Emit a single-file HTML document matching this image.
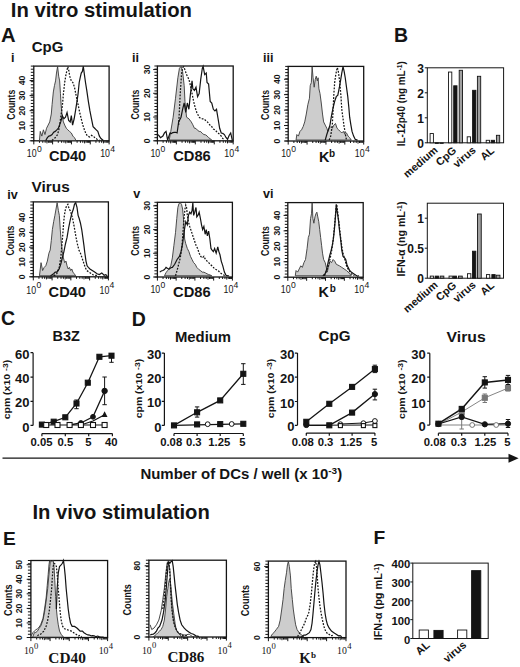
<!DOCTYPE html>
<html><head><meta charset="utf-8"><title>Figure</title>
<style>html,body{margin:0;padding:0;background:#fff;}body{width:520px;height:667px;overflow:hidden;}svg{display:block;}</style>
</head><body>
<svg width="520" height="667" viewBox="0 0 520 667" font-family='"Liberation Sans", sans-serif'>
<rect width="520" height="667" fill="#ffffff"/>
<text x="10.8" y="16.5" font-size="19.6" font-weight="bold" text-anchor="start" fill="#141414" textLength="181.2" lengthAdjust="spacingAndGlyphs">In vitro stimulation</text>
<text x="0.9" y="42.4" font-size="19.6" font-weight="bold" text-anchor="start" fill="#141414" textLength="14.6" lengthAdjust="spacingAndGlyphs">A</text>
<text x="394" y="42.4" font-size="19.5" font-weight="bold" text-anchor="start" fill="#141414">B</text>
<text x="31.8" y="52.3" font-size="14.2" font-weight="bold" text-anchor="start" fill="#141414" textLength="31.6" lengthAdjust="spacingAndGlyphs">CpG</text>
<text x="10.9" y="62.2" font-size="12.6" font-weight="bold" text-anchor="start" fill="#141414">i</text>
<text x="132.1" y="62" font-size="12.6" font-weight="bold" text-anchor="start" fill="#141414">ii</text>
<text x="263" y="62.2" font-size="12.6" font-weight="bold" text-anchor="start" fill="#141414">iii</text>
<text x="31.6" y="192.4" font-size="14.4" font-weight="bold" text-anchor="start" fill="#141414" textLength="38.2" lengthAdjust="spacingAndGlyphs">Virus</text>
<text x="7.2" y="198.8" font-size="12.6" font-weight="bold" text-anchor="start" fill="#141414">iv</text>
<text x="133.3" y="198.4" font-size="12.6" font-weight="bold" text-anchor="start" fill="#141414">v</text>
<text x="263.1" y="198.4" font-size="12.6" font-weight="bold" text-anchor="start" fill="#141414">vi</text>
<rect x="33.8" y="66.1" width="75.3" height="74.7" fill="none" stroke="#141414" stroke-width="1.3"/>
<path d="M30.8,140.8 H33.8 M30.8,137.69 H33.8 M30.8,134.58 H33.8 M30.8,131.46 H33.8 M30.8,128.35 H33.8 M30.8,125.24 H33.8 M30.8,122.12 H33.8 M30.8,119.01 H33.8 M30.8,115.9 H33.8 M30.8,112.79 H33.8 M30.8,109.68 H33.8 M30.8,106.56 H33.8 M30.8,103.45 H33.8 M30.8,100.34 H33.8 M30.8,97.22 H33.8 M30.8,94.11 H33.8 M30.8,91 H33.8 M30.8,87.89 H33.8 M30.8,84.78 H33.8 M30.8,81.66 H33.8 M30.8,78.55 H33.8 M30.8,75.44 H33.8 M30.8,72.32 H33.8 M30.8,69.21 H33.8 M30.8,66.1 H33.8 M29.6,140.8 H33.8 M29.6,125.74 H33.8 M29.6,110.68 H33.8 M29.6,95.62 H33.8 M29.6,80.56 H33.8" stroke="#141414" stroke-width="1" fill="none"/>
<path d="M33.8,140.8 V144.4 M39.47,140.8 V142.8 M42.78,140.8 V142.8 M45.13,140.8 V142.8 M46.96,140.8 V143.4 M48.45,140.8 V142.8 M49.71,140.8 V142.8 M50.8,140.8 V142.8 M51.76,140.8 V142.8 M52.62,140.8 V144.4 M58.29,140.8 V142.8 M61.61,140.8 V142.8 M63.96,140.8 V142.8 M65.78,140.8 V143.4 M67.27,140.8 V142.8 M68.53,140.8 V142.8 M69.63,140.8 V142.8 M70.59,140.8 V142.8 M71.45,140.8 V144.4 M77.12,140.8 V142.8 M80.43,140.8 V142.8 M82.78,140.8 V142.8 M84.61,140.8 V143.4 M86.1,140.8 V142.8 M87.36,140.8 V142.8 M88.45,140.8 V142.8 M89.41,140.8 V142.8 M90.27,140.8 V144.4 M95.94,140.8 V142.8 M99.26,140.8 V142.8 M101.61,140.8 V142.8 M103.43,140.8 V143.4 M104.92,140.8 V142.8 M106.18,140.8 V142.8 M107.28,140.8 V142.8 M108.24,140.8 V142.8 M109.1,140.8 V144.4" stroke="#141414" stroke-width="1" fill="none"/>
<text font-size="9.6" font-weight="bold" text-anchor="middle" fill="#141414" textLength="4.75" lengthAdjust="spacingAndGlyphs" transform="translate(25 140.8) rotate(-90)">0</text>
<text font-size="9.6" font-weight="bold" text-anchor="middle" fill="#141414" textLength="9.5" lengthAdjust="spacingAndGlyphs" transform="translate(25 125.74) rotate(-90)">10</text>
<text font-size="9.6" font-weight="bold" text-anchor="middle" fill="#141414" textLength="9.5" lengthAdjust="spacingAndGlyphs" transform="translate(25 110.68) rotate(-90)">20</text>
<text font-size="9.6" font-weight="bold" text-anchor="middle" fill="#141414" textLength="9.5" lengthAdjust="spacingAndGlyphs" transform="translate(25 95.62) rotate(-90)">30</text>
<text font-size="9.6" font-weight="bold" text-anchor="middle" fill="#141414" textLength="9.5" lengthAdjust="spacingAndGlyphs" transform="translate(25 80.56) rotate(-90)">40</text>
<text font-size="10.4" font-weight="bold" text-anchor="middle" fill="#141414" textLength="30" lengthAdjust="spacingAndGlyphs" transform="translate(14.9 104.65) rotate(-90)">Counts</text>
<text x="26.8" y="157" font-size="10.8" font-weight="normal" fill="#141414" font-family='"Liberation Sans", sans-serif' textLength="9.8" lengthAdjust="spacingAndGlyphs">10</text>
<text x="36.9" y="151.6" font-size="8.6" font-weight="normal" fill="#141414" font-family='"Liberation Sans", sans-serif'>0</text>
<text x="100.2" y="157" font-size="10.8" font-weight="normal" fill="#141414" font-family='"Liberation Sans", sans-serif' textLength="9.8" lengthAdjust="spacingAndGlyphs">10</text>
<text x="110.3" y="151.6" font-size="8.6" font-weight="normal" fill="#141414" font-family='"Liberation Sans", sans-serif'>4</text>
<text x="67.55" y="161.3" font-size="14.4" font-weight="bold" text-anchor="middle" fill="#141414" textLength="37.3" lengthAdjust="spacingAndGlyphs">CD40</text>
<rect x="157.4" y="66" width="75.8" height="74.8" fill="none" stroke="#141414" stroke-width="1.3"/>
<path d="M154.4,140.8 H157.4 M154.4,137.68 H157.4 M154.4,134.57 H157.4 M154.4,131.45 H157.4 M154.4,128.33 H157.4 M154.4,125.22 H157.4 M154.4,122.1 H157.4 M154.4,118.98 H157.4 M154.4,115.87 H157.4 M154.4,112.75 H157.4 M154.4,109.63 H157.4 M154.4,106.52 H157.4 M154.4,103.4 H157.4 M154.4,100.28 H157.4 M154.4,97.17 H157.4 M154.4,94.05 H157.4 M154.4,90.93 H157.4 M154.4,87.82 H157.4 M154.4,84.7 H157.4 M154.4,81.58 H157.4 M154.4,78.47 H157.4 M154.4,75.35 H157.4 M154.4,72.23 H157.4 M154.4,69.12 H157.4 M154.4,66 H157.4 M153.2,140.8 H157.4 M153.2,117.05 H157.4 M153.2,93.31 H157.4 M153.2,69.56 H157.4" stroke="#141414" stroke-width="1" fill="none"/>
<path d="M157.4,140.8 V144.4 M163.1,140.8 V142.8 M166.44,140.8 V142.8 M168.81,140.8 V142.8 M170.65,140.8 V143.4 M172.15,140.8 V142.8 M173.41,140.8 V142.8 M174.51,140.8 V142.8 M175.48,140.8 V142.8 M176.35,140.8 V144.4 M182.05,140.8 V142.8 M185.39,140.8 V142.8 M187.76,140.8 V142.8 M189.6,140.8 V143.4 M191.1,140.8 V142.8 M192.36,140.8 V142.8 M193.46,140.8 V142.8 M194.43,140.8 V142.8 M195.3,140.8 V144.4 M201,140.8 V142.8 M204.34,140.8 V142.8 M206.71,140.8 V142.8 M208.55,140.8 V143.4 M210.05,140.8 V142.8 M211.31,140.8 V142.8 M212.41,140.8 V142.8 M213.38,140.8 V142.8 M214.25,140.8 V144.4 M219.95,140.8 V142.8 M223.29,140.8 V142.8 M225.66,140.8 V142.8 M227.5,140.8 V143.4 M229,140.8 V142.8 M230.26,140.8 V142.8 M231.36,140.8 V142.8 M232.33,140.8 V142.8 M233.2,140.8 V144.4" stroke="#141414" stroke-width="1" fill="none"/>
<text font-size="9.6" font-weight="bold" text-anchor="middle" fill="#141414" textLength="4.75" lengthAdjust="spacingAndGlyphs" transform="translate(150 140.8) rotate(-90)">0</text>
<text font-size="9.6" font-weight="bold" text-anchor="middle" fill="#141414" textLength="9.5" lengthAdjust="spacingAndGlyphs" transform="translate(150 117.05) rotate(-90)">10</text>
<text font-size="9.6" font-weight="bold" text-anchor="middle" fill="#141414" textLength="9.5" lengthAdjust="spacingAndGlyphs" transform="translate(150 93.31) rotate(-90)">20</text>
<text font-size="9.6" font-weight="bold" text-anchor="middle" fill="#141414" textLength="9.5" lengthAdjust="spacingAndGlyphs" transform="translate(150 69.56) rotate(-90)">30</text>
<text font-size="10.4" font-weight="bold" text-anchor="middle" fill="#141414" textLength="30" lengthAdjust="spacingAndGlyphs" transform="translate(138.5 104.6) rotate(-90)">Counts</text>
<text x="150.4" y="157" font-size="10.8" font-weight="normal" fill="#141414" font-family='"Liberation Sans", sans-serif' textLength="9.8" lengthAdjust="spacingAndGlyphs">10</text>
<text x="160.5" y="151.6" font-size="8.6" font-weight="normal" fill="#141414" font-family='"Liberation Sans", sans-serif'>0</text>
<text x="224.3" y="157" font-size="10.8" font-weight="normal" fill="#141414" font-family='"Liberation Sans", sans-serif' textLength="9.8" lengthAdjust="spacingAndGlyphs">10</text>
<text x="234.4" y="151.6" font-size="8.6" font-weight="normal" fill="#141414" font-family='"Liberation Sans", sans-serif'>4</text>
<text x="191.95" y="161.3" font-size="14.4" font-weight="bold" text-anchor="middle" fill="#141414" textLength="37.6" lengthAdjust="spacingAndGlyphs">CD86</text>
<rect x="288.2" y="66.4" width="75.5" height="74.6" fill="none" stroke="#141414" stroke-width="1.3"/>
<path d="M285.2,141 H288.2 M285.2,137.89 H288.2 M285.2,134.78 H288.2 M285.2,131.68 H288.2 M285.2,128.57 H288.2 M285.2,125.46 H288.2 M285.2,122.35 H288.2 M285.2,119.24 H288.2 M285.2,116.13 H288.2 M285.2,113.03 H288.2 M285.2,109.92 H288.2 M285.2,106.81 H288.2 M285.2,103.7 H288.2 M285.2,100.59 H288.2 M285.2,97.48 H288.2 M285.2,94.38 H288.2 M285.2,91.27 H288.2 M285.2,88.16 H288.2 M285.2,85.05 H288.2 M285.2,81.94 H288.2 M285.2,78.83 H288.2 M285.2,75.73 H288.2 M285.2,72.62 H288.2 M285.2,69.51 H288.2 M285.2,66.4 H288.2 M284,141 H288.2 M284,125.55 H288.2 M284,110.11 H288.2 M284,94.66 H288.2 M284,79.22 H288.2" stroke="#141414" stroke-width="1" fill="none"/>
<path d="M288.2,141 V144.6 M293.88,141 V143 M297.21,141 V143 M299.56,141 V143 M301.39,141 V143.6 M302.89,141 V143 M304.15,141 V143 M305.25,141 V143 M306.21,141 V143 M307.07,141 V144.6 M312.76,141 V143 M316.08,141 V143 M318.44,141 V143 M320.27,141 V143.6 M321.76,141 V143 M323.03,141 V143 M324.12,141 V143 M325.09,141 V143 M325.95,141 V144.6 M331.63,141 V143 M334.96,141 V143 M337.31,141 V143 M339.14,141 V143.6 M340.64,141 V143 M341.9,141 V143 M343,141 V143 M343.96,141 V143 M344.82,141 V144.6 M350.51,141 V143 M353.83,141 V143 M356.19,141 V143 M358.02,141 V143.6 M359.51,141 V143 M360.78,141 V143 M361.87,141 V143 M362.84,141 V143 M363.7,141 V144.6" stroke="#141414" stroke-width="1" fill="none"/>
<text font-size="9.6" font-weight="bold" text-anchor="middle" fill="#141414" textLength="4.75" lengthAdjust="spacingAndGlyphs" transform="translate(280.4 141) rotate(-90)">0</text>
<text font-size="9.6" font-weight="bold" text-anchor="middle" fill="#141414" textLength="9.5" lengthAdjust="spacingAndGlyphs" transform="translate(280.4 125.55) rotate(-90)">10</text>
<text font-size="9.6" font-weight="bold" text-anchor="middle" fill="#141414" textLength="9.5" lengthAdjust="spacingAndGlyphs" transform="translate(280.4 110.11) rotate(-90)">20</text>
<text font-size="9.6" font-weight="bold" text-anchor="middle" fill="#141414" textLength="9.5" lengthAdjust="spacingAndGlyphs" transform="translate(280.4 94.66) rotate(-90)">30</text>
<text font-size="9.6" font-weight="bold" text-anchor="middle" fill="#141414" textLength="9.5" lengthAdjust="spacingAndGlyphs" transform="translate(280.4 79.22) rotate(-90)">40</text>
<text font-size="10.4" font-weight="bold" text-anchor="middle" fill="#141414" textLength="30" lengthAdjust="spacingAndGlyphs" transform="translate(269.2 104.9) rotate(-90)">Counts</text>
<text x="281.2" y="157.2" font-size="10.8" font-weight="normal" fill="#141414" font-family='"Liberation Sans", sans-serif' textLength="9.8" lengthAdjust="spacingAndGlyphs">10</text>
<text x="291.3" y="151.8" font-size="8.6" font-weight="normal" fill="#141414" font-family='"Liberation Sans", sans-serif'>0</text>
<text x="354.8" y="157.2" font-size="10.8" font-weight="normal" fill="#141414" font-family='"Liberation Sans", sans-serif' textLength="9.8" lengthAdjust="spacingAndGlyphs">10</text>
<text x="364.9" y="151.8" font-size="8.6" font-weight="normal" fill="#141414" font-family='"Liberation Sans", sans-serif'>4</text>
<text x="319.1" y="161.5" font-size="14.4" font-weight="bold" text-anchor="start" fill="#141414">K</text>
<text x="329.1" y="156.6" font-size="10" font-weight="bold" text-anchor="start" fill="#141414">b</text>
<rect x="33.3" y="201.9" width="75.1" height="74.9" fill="none" stroke="#141414" stroke-width="1.3"/>
<path d="M30.3,276.8 H33.3 M30.3,273.68 H33.3 M30.3,270.56 H33.3 M30.3,267.44 H33.3 M30.3,264.32 H33.3 M30.3,261.2 H33.3 M30.3,258.07 H33.3 M30.3,254.95 H33.3 M30.3,251.83 H33.3 M30.3,248.71 H33.3 M30.3,245.59 H33.3 M30.3,242.47 H33.3 M30.3,239.35 H33.3 M30.3,236.23 H33.3 M30.3,233.11 H33.3 M30.3,229.99 H33.3 M30.3,226.87 H33.3 M30.3,223.75 H33.3 M30.3,220.62 H33.3 M30.3,217.5 H33.3 M30.3,214.38 H33.3 M30.3,211.26 H33.3 M30.3,208.14 H33.3 M30.3,205.02 H33.3 M30.3,201.9 H33.3 M29.1,276.8 H33.3 M29.1,262 H33.3 M29.1,247.2 H33.3 M29.1,232.39 H33.3 M29.1,217.59 H33.3" stroke="#141414" stroke-width="1" fill="none"/>
<path d="M33.3,276.8 V280.4 M38.95,276.8 V278.8 M42.26,276.8 V278.8 M44.6,276.8 V278.8 M46.42,276.8 V279.4 M47.91,276.8 V278.8 M49.17,276.8 V278.8 M50.26,276.8 V278.8 M51.22,276.8 V278.8 M52.08,276.8 V280.4 M57.73,276.8 V278.8 M61.03,276.8 V278.8 M63.38,276.8 V278.8 M65.2,276.8 V279.4 M66.68,276.8 V278.8 M67.94,276.8 V278.8 M69.03,276.8 V278.8 M69.99,276.8 V278.8 M70.85,276.8 V280.4 M76.5,276.8 V278.8 M79.81,276.8 V278.8 M82.15,276.8 V278.8 M83.97,276.8 V279.4 M85.46,276.8 V278.8 M86.72,276.8 V278.8 M87.81,276.8 V278.8 M88.77,276.8 V278.8 M89.62,276.8 V280.4 M95.28,276.8 V278.8 M98.58,276.8 V278.8 M100.93,276.8 V278.8 M102.75,276.8 V279.4 M104.23,276.8 V278.8 M105.49,276.8 V278.8 M106.58,276.8 V278.8 M107.54,276.8 V278.8 M108.4,276.8 V280.4" stroke="#141414" stroke-width="1" fill="none"/>
<text font-size="9.6" font-weight="bold" text-anchor="middle" fill="#141414" textLength="4.75" lengthAdjust="spacingAndGlyphs" transform="translate(25.4 276.8) rotate(-90)">0</text>
<text font-size="9.6" font-weight="bold" text-anchor="middle" fill="#141414" textLength="9.5" lengthAdjust="spacingAndGlyphs" transform="translate(25.4 262) rotate(-90)">10</text>
<text font-size="9.6" font-weight="bold" text-anchor="middle" fill="#141414" textLength="9.5" lengthAdjust="spacingAndGlyphs" transform="translate(25.4 247.2) rotate(-90)">20</text>
<text font-size="9.6" font-weight="bold" text-anchor="middle" fill="#141414" textLength="9.5" lengthAdjust="spacingAndGlyphs" transform="translate(25.4 232.39) rotate(-90)">30</text>
<text font-size="9.6" font-weight="bold" text-anchor="middle" fill="#141414" textLength="9.5" lengthAdjust="spacingAndGlyphs" transform="translate(25.4 217.59) rotate(-90)">40</text>
<text font-size="10.4" font-weight="bold" text-anchor="middle" fill="#141414" textLength="30" lengthAdjust="spacingAndGlyphs" transform="translate(14.2 240.55) rotate(-90)">Counts</text>
<text x="26.3" y="293.6" font-size="10.8" font-weight="normal" fill="#141414" font-family='"Liberation Sans", sans-serif' textLength="9.8" lengthAdjust="spacingAndGlyphs">10</text>
<text x="36.4" y="288.2" font-size="8.6" font-weight="normal" fill="#141414" font-family='"Liberation Sans", sans-serif'>0</text>
<text x="99.5" y="293.6" font-size="10.8" font-weight="normal" fill="#141414" font-family='"Liberation Sans", sans-serif' textLength="9.8" lengthAdjust="spacingAndGlyphs">10</text>
<text x="109.6" y="288.2" font-size="8.6" font-weight="normal" fill="#141414" font-family='"Liberation Sans", sans-serif'>4</text>
<text x="67.25" y="297.3" font-size="14.4" font-weight="bold" text-anchor="middle" fill="#141414" textLength="37.3" lengthAdjust="spacingAndGlyphs">CD40</text>
<rect x="157.4" y="202.3" width="75" height="74.7" fill="none" stroke="#141414" stroke-width="1.3"/>
<path d="M154.4,277 H157.4 M154.4,273.89 H157.4 M154.4,270.77 H157.4 M154.4,267.66 H157.4 M154.4,264.55 H157.4 M154.4,261.44 H157.4 M154.4,258.32 H157.4 M154.4,255.21 H157.4 M154.4,252.1 H157.4 M154.4,248.99 H157.4 M154.4,245.88 H157.4 M154.4,242.76 H157.4 M154.4,239.65 H157.4 M154.4,236.54 H157.4 M154.4,233.43 H157.4 M154.4,230.31 H157.4 M154.4,227.2 H157.4 M154.4,224.09 H157.4 M154.4,220.98 H157.4 M154.4,217.86 H157.4 M154.4,214.75 H157.4 M154.4,211.64 H157.4 M154.4,208.53 H157.4 M154.4,205.41 H157.4 M154.4,202.3 H157.4 M153.2,277 H157.4 M153.2,253.29 H157.4 M153.2,229.57 H157.4 M153.2,205.86 H157.4" stroke="#141414" stroke-width="1" fill="none"/>
<path d="M157.4,277 V280.6 M163.04,277 V279 M166.35,277 V279 M168.69,277 V279 M170.51,277 V279.6 M171.99,277 V279 M173.25,277 V279 M174.33,277 V279 M175.29,277 V279 M176.15,277 V280.6 M181.79,277 V279 M185.1,277 V279 M187.44,277 V279 M189.26,277 V279.6 M190.74,277 V279 M192,277 V279 M193.08,277 V279 M194.04,277 V279 M194.9,277 V280.6 M200.54,277 V279 M203.85,277 V279 M206.19,277 V279 M208.01,277 V279.6 M209.49,277 V279 M210.75,277 V279 M211.83,277 V279 M212.79,277 V279 M213.65,277 V280.6 M219.29,277 V279 M222.6,277 V279 M224.94,277 V279 M226.76,277 V279.6 M228.24,277 V279 M229.5,277 V279 M230.58,277 V279 M231.54,277 V279 M232.4,277 V280.6" stroke="#141414" stroke-width="1" fill="none"/>
<text font-size="9.6" font-weight="bold" text-anchor="middle" fill="#141414" textLength="4.75" lengthAdjust="spacingAndGlyphs" transform="translate(150 277) rotate(-90)">0</text>
<text font-size="9.6" font-weight="bold" text-anchor="middle" fill="#141414" textLength="9.5" lengthAdjust="spacingAndGlyphs" transform="translate(150 253.29) rotate(-90)">10</text>
<text font-size="9.6" font-weight="bold" text-anchor="middle" fill="#141414" textLength="9.5" lengthAdjust="spacingAndGlyphs" transform="translate(150 229.57) rotate(-90)">20</text>
<text font-size="9.6" font-weight="bold" text-anchor="middle" fill="#141414" textLength="9.5" lengthAdjust="spacingAndGlyphs" transform="translate(150 205.86) rotate(-90)">30</text>
<text font-size="10.4" font-weight="bold" text-anchor="middle" fill="#141414" textLength="30" lengthAdjust="spacingAndGlyphs" transform="translate(138.5 240.85) rotate(-90)">Counts</text>
<text x="150.4" y="293.2" font-size="10.8" font-weight="normal" fill="#141414" font-family='"Liberation Sans", sans-serif' textLength="9.8" lengthAdjust="spacingAndGlyphs">10</text>
<text x="160.5" y="287.8" font-size="8.6" font-weight="normal" fill="#141414" font-family='"Liberation Sans", sans-serif'>0</text>
<text x="223.5" y="293.2" font-size="10.8" font-weight="normal" fill="#141414" font-family='"Liberation Sans", sans-serif' textLength="9.8" lengthAdjust="spacingAndGlyphs">10</text>
<text x="233.6" y="287.8" font-size="8.6" font-weight="normal" fill="#141414" font-family='"Liberation Sans", sans-serif'>4</text>
<text x="191.9" y="296.9" font-size="14.4" font-weight="bold" text-anchor="middle" fill="#141414" textLength="37.6" lengthAdjust="spacingAndGlyphs">CD86</text>
<rect x="287.8" y="202.6" width="75.4" height="74.6" fill="none" stroke="#141414" stroke-width="1.3"/>
<path d="M284.8,277.2 H287.8 M284.8,274.09 H287.8 M284.8,270.98 H287.8 M284.8,267.88 H287.8 M284.8,264.77 H287.8 M284.8,261.66 H287.8 M284.8,258.55 H287.8 M284.8,255.44 H287.8 M284.8,252.33 H287.8 M284.8,249.22 H287.8 M284.8,246.12 H287.8 M284.8,243.01 H287.8 M284.8,239.9 H287.8 M284.8,236.79 H287.8 M284.8,233.68 H287.8 M284.8,230.57 H287.8 M284.8,227.47 H287.8 M284.8,224.36 H287.8 M284.8,221.25 H287.8 M284.8,218.14 H287.8 M284.8,215.03 H287.8 M284.8,211.93 H287.8 M284.8,208.82 H287.8 M284.8,205.71 H287.8 M284.8,202.6 H287.8 M283.6,277.2 H287.8 M283.6,261.75 H287.8 M283.6,246.31 H287.8 M283.6,230.86 H287.8 M283.6,215.42 H287.8" stroke="#141414" stroke-width="1" fill="none"/>
<path d="M287.8,277.2 V280.8 M293.47,277.2 V279.2 M296.79,277.2 V279.2 M299.15,277.2 V279.2 M300.98,277.2 V279.8 M302.47,277.2 V279.2 M303.73,277.2 V279.2 M304.82,277.2 V279.2 M305.79,277.2 V279.2 M306.65,277.2 V280.8 M312.32,277.2 V279.2 M315.64,277.2 V279.2 M318,277.2 V279.2 M319.83,277.2 V279.8 M321.32,277.2 V279.2 M322.58,277.2 V279.2 M323.67,277.2 V279.2 M324.64,277.2 V279.2 M325.5,277.2 V280.8 M331.17,277.2 V279.2 M334.49,277.2 V279.2 M336.85,277.2 V279.2 M338.68,277.2 V279.8 M340.17,277.2 V279.2 M341.43,277.2 V279.2 M342.52,277.2 V279.2 M343.49,277.2 V279.2 M344.35,277.2 V280.8 M350.02,277.2 V279.2 M353.34,277.2 V279.2 M355.7,277.2 V279.2 M357.53,277.2 V279.8 M359.02,277.2 V279.2 M360.28,277.2 V279.2 M361.37,277.2 V279.2 M362.34,277.2 V279.2 M363.2,277.2 V280.8" stroke="#141414" stroke-width="1" fill="none"/>
<text font-size="9.6" font-weight="bold" text-anchor="middle" fill="#141414" textLength="4.75" lengthAdjust="spacingAndGlyphs" transform="translate(280.2 277.2) rotate(-90)">0</text>
<text font-size="9.6" font-weight="bold" text-anchor="middle" fill="#141414" textLength="9.5" lengthAdjust="spacingAndGlyphs" transform="translate(280.2 261.75) rotate(-90)">10</text>
<text font-size="9.6" font-weight="bold" text-anchor="middle" fill="#141414" textLength="9.5" lengthAdjust="spacingAndGlyphs" transform="translate(280.2 246.31) rotate(-90)">20</text>
<text font-size="9.6" font-weight="bold" text-anchor="middle" fill="#141414" textLength="9.5" lengthAdjust="spacingAndGlyphs" transform="translate(280.2 230.86) rotate(-90)">30</text>
<text font-size="9.6" font-weight="bold" text-anchor="middle" fill="#141414" textLength="9.5" lengthAdjust="spacingAndGlyphs" transform="translate(280.2 215.42) rotate(-90)">40</text>
<text font-size="10.4" font-weight="bold" text-anchor="middle" fill="#141414" textLength="30" lengthAdjust="spacingAndGlyphs" transform="translate(269 241.1) rotate(-90)">Counts</text>
<text x="280.8" y="293.4" font-size="10.8" font-weight="normal" fill="#141414" font-family='"Liberation Sans", sans-serif' textLength="9.8" lengthAdjust="spacingAndGlyphs">10</text>
<text x="290.9" y="288" font-size="8.6" font-weight="normal" fill="#141414" font-family='"Liberation Sans", sans-serif'>0</text>
<text x="354.3" y="293.4" font-size="10.8" font-weight="normal" fill="#141414" font-family='"Liberation Sans", sans-serif' textLength="9.8" lengthAdjust="spacingAndGlyphs">10</text>
<text x="364.4" y="288" font-size="8.6" font-weight="normal" fill="#141414" font-family='"Liberation Sans", sans-serif'>4</text>
<text x="318.6" y="296.9" font-size="14.4" font-weight="bold" text-anchor="start" fill="#141414">K</text>
<text x="329.8" y="291.6" font-size="10" font-weight="bold" text-anchor="start" fill="#141414">b</text>
<path d="M39.46,140.54 L40.25,131.39 L41.83,136.12 L43.4,129.81 L44.98,134.54 L46.56,128.24 L48.14,125.08 L49.71,121.93 L51.29,114.04 L52.08,104.58 L53.34,91.96 L54.44,85.66 L55.55,80.92 L56.49,73.04 L57.6,66.42 L58.7,76.19 L59.65,80.92 L60.44,93.54 L61.23,106.16 L62.33,117.2 L63.43,121.93 L64.69,125.08 L66.27,128.24 L67.85,129.81 L69.43,131.39 L71.32,132.97 L72.9,136.12 L74.47,137.7 L76.05,140.54 Z" fill="#cdcdcd" stroke="#3a3a3a" stroke-width="0.9"/>
<path d="M52.08,140.54 L53.66,138.8 L55.23,137.7 L57.6,134.54 L59.18,128.24 L60.75,117.2 L62.33,106.16 L63.43,93.54 L64.69,82.5 L65.96,74.62 L67.06,69.89 L67.85,66.73 L68.95,71.46 L69.74,76.19 L71.32,80.92 L72.9,82.5 L74.47,87.23 L75.73,93.54 L77,99.85 L78.1,104.58 L79.68,112.47 L81.25,118.77 L82.83,125.08 L84.41,129.81 L85.98,133.76 L87.56,136.12 L89.61,136.91 L91.5,135.33 L93.08,136.12 L94.97,137.7 L97.02,139.27 L99.39,140.06" fill="none" stroke="#141414" stroke-width="1.25" stroke-dasharray="1.8 1.4"/>
<path d="M45.77,140.54 L47.35,137.7 L48.92,136.12 L50.5,135.6 L52.08,134.54 L53.66,132.2 L55.23,131.39 L56.81,129.88 L58.39,128.24 L60.75,121.93 L62.33,115.62 L63.91,118.77 L65.48,117.2 L67.06,112.47 L68.64,120.35 L70.21,121.93 L71.32,115.62 L72.58,125.08 L74.16,118.77 L75.73,109.31 L77,101.43 L78.1,93.54 L79.2,82.5 L80.15,77.77 L81.25,73.04 L82.36,71.46 L83.3,66.42 L84.41,74.62 L85.51,82.5 L86.77,90.39 L88.35,101.43 L89.93,110.89 L91.5,118.77 L93.08,126.66 L94.66,128.24 L96.24,129.81 L97.81,131.39 L99.39,136.12 L100.97,138.49 L103.33,140.54" fill="none" stroke="#141414" stroke-width="1.2" stroke-linejoin="miter"/>
<path d="M169.19,140.06 L170.77,131.39 L173.14,117.2 L175.5,98.27 L177.87,77.77 L179.44,68.31 L181.02,66.42 L182.6,71.46 L184.18,85.66 L184.96,101.43 L186.54,117.2 L188.91,118.77 L191.27,121.93 L192.85,124.84 L194.43,128.24 L196,128.49 L197.58,130.35 L199.16,131.39 L200.73,131.61 L202.31,133.37 L203.89,134.54 L205.47,134.82 L207.04,135.91 L208.62,137.7 L210.2,138.74 L211.77,140.06 Z" fill="#cdcdcd" stroke="#3a3a3a" stroke-width="0.9"/>
<path d="M178.66,125.08 L180.23,93.54 L181.49,74.62 L182.6,67.52 L183.7,66.73 L184.96,69.89 L186.54,74.62 L188.91,79.35 L190.48,85.66 L192.06,93.54 L193.64,101.43 L195.21,107.73 L196.79,112.47 L199.16,117.2 L200.73,118.57 L202.31,118.77 L203.89,118.88 L205.47,120.35 L207.04,121.43 L208.62,123.5 L210.2,125.31 L211.77,126.66 L213.35,129.04 L214.93,129.81 L216.5,131.53 L218.08,132.97 L219.66,134.36 L221.24,136.12 L222.81,138.56 L224.39,139.27" fill="none" stroke="#141414" stroke-width="1.25" stroke-dasharray="1.8 1.4"/>
<path d="M158.15,134.54 L160.52,137.7 L162.89,136.12 L164.46,132.94 L166.04,131.39 L167.62,140.06 L169.98,132.97 L171.4,133.61 L172.82,132.59 L174.24,132.33 L175.66,132.28 L177.08,132.97 L178.66,121.93 L181.02,117.2 L182.6,109.31 L184.18,103 L185.75,112.47 L187.33,103 L188.91,109.31 L190.48,93.54 L192.06,80.92 L192.85,88.81 L194.43,90.39 L196,87.23 L197.58,96.69 L199.16,93.54 L200.73,79.35 L202.31,68.31 L203.1,66.42 L204.68,74.62 L206.25,73.04 L207.04,82.5 L208.62,84.08 L210.2,101.43 L211.77,103 L213.35,109.31 L214.93,110.89 L216.5,109.31 L218.08,118.77 L219.66,128.24 L221.24,132.97 L222.81,133.41 L224.39,134.54 L225.97,137.48 L227.54,139.27 L229.12,135.55 L230.7,132.97 L232.27,140.06" fill="none" stroke="#141414" stroke-width="1.2" stroke-linejoin="miter"/>
<path d="M296.04,140.06 L296.83,134.54 L298.4,136.12 L299.98,131.39 L301.56,129.81 L303.14,126.66 L304.71,121.93 L306.29,114.04 L307.87,104.58 L309.44,98.27 L310.23,85.66 L311.34,82.5 L312.13,66.73 L313.07,77.77 L314.18,87.23 L315.28,79.35 L316.23,76.19 L317.33,80.92 L318.12,77.77 L318.91,88.81 L320.01,93.54 L321.27,103 L322.53,114.04 L323.64,121.93 L325.21,125.08 L326.79,128.24 L327.9,131.39 L329.16,128.24 L330.73,126.66 L332.31,128.24 L333.89,125.08 L335.47,123.5 L337.04,128.24 L338.62,129.81 L340.2,131.39 L341.77,132.97 L343.35,131.39 L344.93,134.54 L346.5,132.97 L348.08,136.12 L349.66,137.7 L351.24,140.06 Z" fill="#cdcdcd" stroke="#3a3a3a" stroke-width="0.9"/>
<path d="M329.16,140.06 L330.73,136.12 L332.31,125.08 L333.1,109.31 L333.89,93.54 L334.68,82.5 L335.78,74.62 L336.73,69.89 L337.36,67.52 L338.3,71.46 L339.41,79.35 L340.2,87.23 L340.98,96.69 L341.77,109.31 L343.04,118.77 L344.14,126.66 L344.93,131.39 L345.72,136.12 L346.5,140.06" fill="none" stroke="#141414" stroke-width="1.25" stroke-dasharray="1.8 1.4"/>
<path d="M325.21,140.06 L326.79,134.54 L328.37,129.81 L329.95,125.08 L331.52,115.62 L333.1,107.73 L334.68,101.43 L336.25,96.69 L337.83,95.12 L339.41,87.23 L340.51,80.92 L341.77,73.04 L343.04,66.73 L344.14,71.46 L345.24,77.77 L346.5,87.23 L347.77,96.69 L348.87,107.73 L349.66,117.2 L350.92,125.08 L352.02,131.39 L353.6,136.12 L355.18,139.27 L357.54,140.06" fill="none" stroke="#141414" stroke-width="1.2" stroke-linejoin="miter"/>
<path d="M39.46,275.75 L41.04,262.66 L42.62,270.54 L44.19,267.39 L45.77,265.81 L47.35,261.08 L48.92,253.2 L50.19,250.04 L51.29,240.58 L52.39,229.54 L53.66,221.66 L54.92,215.35 L56.02,209.04 L57.13,202.73 L58.39,210.62 L59.33,215.35 L60.28,229.54 L61.23,242.16 L62.33,251.62 L63.43,257.93 L64.69,262.66 L65.96,261.08 L67.06,265.81 L68.16,268.97 L69.43,267.39 L70.69,270.54 L71.79,268.97 L72.9,272.12 L74.16,273.7 L75.73,275.75 Z" fill="#cdcdcd" stroke="#3a3a3a" stroke-width="0.9"/>
<path d="M53.66,275.75 L55.23,274.87 L56.81,273.7 L59.18,267.39 L60.75,257.93 L61.86,245.31 L62.8,234.27 L63.59,223.23 L64.38,215.35 L65.48,209.04 L66.59,205.89 L67.85,204.31 L69.11,209.04 L70.21,210.62 L71.32,213.77 L72.58,218.5 L73.84,224.81 L74.95,231.12 L76.05,237.43 L77.31,243.73 L78.89,250.04 L80.47,253.2 L82.04,257.93 L83.62,262.66 L85.2,267.39 L86.77,270.54 L89.14,272.12 L91.5,273.7 L93.08,274.74 L94.66,275.27 L96.24,275.28 L97.81,275.75" fill="none" stroke="#141414" stroke-width="1.25" stroke-dasharray="1.8 1.4"/>
<path d="M50.5,275.75 L52.08,274.81 L53.66,273.7 L55.23,272.12 L56.81,272.12 L59.18,268.97 L60.75,264.24 L62.33,257.93 L63.91,251.62 L65.48,243.73 L67.06,237.43 L68.64,227.96 L70.21,220.08 L71.32,215.35 L72.26,212.19 L73.37,209.04 L74.47,204.31 L75.73,202.73 L77,207.46 L78.1,215.35 L79.2,218.5 L80.47,223.23 L81.73,229.54 L82.83,237.43 L83.93,245.31 L84.88,253.2 L85.98,261.08 L87.09,265.81 L88.35,267.39 L89.93,268.97 L92.29,270.54 L94.66,272.12 L97.02,273.7 L99.39,274.49 L101.76,272.91 L104.12,275.27 L105.7,274.72 L107.27,275.75" fill="none" stroke="#141414" stroke-width="1.2" stroke-linejoin="miter"/>
<path d="M164.46,275.75 L166.04,272.62 L167.62,270.54 L169.19,268.5 L170.77,265.81 L172.35,257.93 L173.92,245.31 L175.5,232.69 L176.76,218.5 L177.87,207.46 L178.97,203.52 L180.23,202.73 L181.49,204.31 L182.6,209.04 L183.39,216.92 L184.18,229.54 L184.65,239 L185.75,243.73 L187.33,248.47 L188.91,251.62 L190.48,256.35 L192.06,259.5 L193.64,262.66 L195.21,264.24 L196.79,267.39 L199.16,269.76 L200.73,270.81 L202.31,272.12 L203.89,272.18 L205.47,272.91 L207.04,273.85 L208.62,274.49 L210.2,275.03 L211.77,275.75 Z" fill="#cdcdcd" stroke="#3a3a3a" stroke-width="0.9"/>
<path d="M175.5,275.75 L177.08,270.54 L178.66,264.24 L180.23,257.93 L181.81,248.47 L182.6,237.43 L183.39,226.39 L184.18,216.92 L184.96,209.04 L185.75,205.1 L186.54,207.46 L187.33,215.35 L188.43,221.66 L189.69,226.39 L191.27,231.12 L192.85,235.85 L194.43,240.58 L196,245.31 L197.58,248.47 L199.16,253.2 L200.73,256.35 L202.31,257.93 L203.89,256.35 L205.47,259.5 L207.04,261.08 L208.62,262.66 L210.2,264.24 L211.77,265.81 L213.35,267.39 L214.93,268.97 L216.5,269.76 L218.08,270.54 L220.45,272.91 L222.81,274.49 L225.18,275.75" fill="none" stroke="#141414" stroke-width="1.25" stroke-dasharray="1.8 1.4"/>
<path d="M159.73,272.12 L161.31,270.97 L162.89,270.54 L164.46,269.5 L166.04,267.39 L167.62,268.54 L169.19,268.97 L170.77,267.72 L172.35,267.39 L174.71,264.24 L177.08,259.5 L179.44,256.35 L181.02,251.62 L182.6,243.73 L183.39,237.43 L184.49,229.54 L185.75,221.66 L187.33,224.81 L188.43,215.35 L189.69,212.19 L190.96,213.77 L192.06,210.62 L192.85,202.73 L193.64,215.35 L194.74,212.19 L196,207.46 L196.79,216.92 L197.9,215.35 L199.16,212.19 L200.42,218.5 L201.52,224.81 L202.63,229.54 L203.89,226.39 L205.15,234.27 L206.25,229.54 L207.36,235.85 L208.62,231.12 L209.88,239 L210.98,248.47 L212.09,250.04 L213.35,251.62 L214.61,248.47 L216.19,253.2 L217.77,246.89 L218.87,251.62 L219.97,254.77 L221.24,261.08 L222.81,265.81 L224.39,272.12 L225.97,275.27 L227.54,275.65 L229.12,275.75" fill="none" stroke="#141414" stroke-width="1.2" stroke-linejoin="miter"/>
<path d="M295.25,275.75 L296.04,270.54 L297.62,272.12 L299.19,268.97 L300.77,265.81 L302.35,267.39 L303.92,262.66 L305.5,259.5 L307.08,248.47 L308.34,237.43 L309.44,234.27 L310.55,218.5 L311.49,213.77 L312.13,202.73 L312.91,218.5 L313.86,223.23 L314.96,216.92 L315.91,213.77 L316.86,212.19 L317.8,216.92 L318.75,221.66 L319.69,229.54 L320.64,237.43 L321.59,245.31 L322.53,253.2 L323.64,259.5 L325.21,262.66 L326.32,267.39 L327.26,272.12 L328.37,267.39 L329.95,261.08 L331.52,262.66 L333.1,259.5 L334.68,261.08 L336.25,264.24 L337.83,265.02 L339.41,265.81 L341.77,267.39 L344.14,268.97 L346.5,270.54 L348.08,272.12 L349.66,273.7 L351.24,275.75 Z" fill="#cdcdcd" stroke="#3a3a3a" stroke-width="0.9"/>
<path d="M324.43,275.75 L326.79,270.54 L329.16,262.66 L331.52,251.62 L333.1,240.58 L334.2,229.54 L335.15,218.5 L336.1,207.46 L336.73,204.31 L337.67,212.19 L338.62,220.08 L339.88,231.12 L340.98,240.58 L342.09,248.47 L343.35,254.77 L344.93,259.5 L346.5,265.81 L348.87,270.54 L351.24,273.7 L352.81,274.77 L354.39,275.75" fill="none" stroke="#141414" stroke-width="1.25" stroke-dasharray="1.8 1.4"/>
<path d="M322.85,275.75 L325.21,273.7 L326.79,268.97 L328.37,261.08 L329.95,254.77 L331.21,250.04 L332.31,245.31 L333.57,237.43 L334.68,226.39 L335.47,216.92 L336.25,204.31 L337.04,210.62 L337.83,215.35 L338.62,221.66 L339.41,229.54 L340.2,235.85 L340.98,242.16 L341.77,250.04 L343.04,256.35 L344.61,257.93 L345.72,259.5 L346.82,264.24 L348.08,267.39 L349.66,270.54 L351.24,272.12 L353.6,273.7 L355.97,275.27 L357.54,276.19 L359.12,275.75" fill="none" stroke="#141414" stroke-width="1.2" stroke-linejoin="miter"/>
<rect x="427.3" y="67.8" width="76.3" height="75" fill="none" stroke="#141414" stroke-width="1"/>
<path d="M424.8,142.8 H427.3 M424.8,117.8 H427.3 M424.8,92.8 H427.3 M424.8,67.8 H427.3" stroke="#141414" stroke-width="1"/>
<text x="424" y="147.8" font-size="12" font-weight="bold" text-anchor="end" fill="#141414">0</text>
<text x="424" y="122.8" font-size="12" font-weight="bold" text-anchor="end" fill="#141414">1</text>
<text x="424" y="97.8" font-size="12" font-weight="bold" text-anchor="end" fill="#141414">2</text>
<text x="424" y="72.8" font-size="12" font-weight="bold" text-anchor="end" fill="#141414">3</text>
<rect x="430.1" y="133.55" width="3.3" height="9.25" fill="#ffffff" stroke="#141414" stroke-width="0.9"/>
<rect x="435.1" y="142.8" width="3.3" height="0.6" fill="#141414" stroke="#141414" stroke-width="0.9"/>
<rect x="439.9" y="142.8" width="3.3" height="0.6" fill="#a0a0a0" stroke="#141414" stroke-width="0.9"/>
<rect x="448.5" y="72.05" width="3.3" height="70.75" fill="#ffffff" stroke="#141414" stroke-width="0.9"/>
<rect x="453.7" y="85.8" width="3.3" height="57" fill="#141414" stroke="#141414" stroke-width="0.9"/>
<rect x="459.2" y="70.3" width="3.3" height="72.5" fill="#a0a0a0" stroke="#141414" stroke-width="0.9"/>
<rect x="467.2" y="136.8" width="3.3" height="6" fill="#ffffff" stroke="#141414" stroke-width="0.9"/>
<rect x="472.6" y="90.3" width="3.3" height="52.5" fill="#141414" stroke="#141414" stroke-width="0.9"/>
<rect x="477.4" y="76.3" width="3.3" height="66.5" fill="#a0a0a0" stroke="#141414" stroke-width="0.9"/>
<rect x="486.2" y="140.3" width="3.3" height="2.5" fill="#ffffff" stroke="#141414" stroke-width="0.9"/>
<rect x="491.2" y="140.3" width="3.3" height="2.5" fill="#141414" stroke="#141414" stroke-width="0.9"/>
<rect x="496.4" y="135.3" width="3.3" height="7.5" fill="#a0a0a0" stroke="#141414" stroke-width="0.9"/>
<text font-size="10.8" font-weight="bold" text-anchor="middle" fill="#141414" textLength="85" lengthAdjust="spacingAndGlyphs" transform="translate(404.7 103.8) rotate(-90)">IL-12p40 (ng mL<tspan dy="-3" font-size="7">-1</tspan><tspan dy="3">)</tspan></text>
<text font-size="10.8" font-weight="bold" text-anchor="end" fill="#141414" transform="translate(438.5 151.2) rotate(-41)">medium</text>
<text font-size="10.8" font-weight="bold" text-anchor="end" fill="#141414" transform="translate(457 151.6) rotate(-41)">CpG</text>
<text font-size="10.8" font-weight="bold" text-anchor="end" fill="#141414" transform="translate(476.5 151.2) rotate(-41)">virus</text>
<text font-size="10.8" font-weight="bold" text-anchor="end" fill="#141414" transform="translate(495 151.6) rotate(-41)">AL</text>
<rect x="427.3" y="203.2" width="76.2" height="75" fill="none" stroke="#141414" stroke-width="1"/>
<path d="M424.8,278.2 H427.3 M424.8,248.2 H427.3 M424.8,218.2 H427.3" stroke="#141414" stroke-width="1"/>
<text x="424" y="283" font-size="12" font-weight="bold" text-anchor="end" fill="#141414">0</text>
<text x="424" y="253" font-size="12" font-weight="bold" text-anchor="end" fill="#141414">0.5</text>
<text x="424" y="223" font-size="12" font-weight="bold" text-anchor="end" fill="#141414">1</text>
<rect x="430.25" y="276.1" width="3.3" height="2.1" fill="#ffffff" stroke="#141414" stroke-width="0.9"/>
<rect x="435.15" y="276.1" width="3.3" height="2.1" fill="#141414" stroke="#141414" stroke-width="0.9"/>
<rect x="440.15" y="276.1" width="3.7" height="2.1" fill="#a0a0a0" stroke="#141414" stroke-width="0.9"/>
<rect x="449.05" y="276.1" width="3.3" height="2.1" fill="#ffffff" stroke="#141414" stroke-width="0.9"/>
<rect x="453.25" y="276.1" width="3.3" height="2.1" fill="#141414" stroke="#141414" stroke-width="0.9"/>
<rect x="458.55" y="276.1" width="3.7" height="2.1" fill="#a0a0a0" stroke="#141414" stroke-width="0.9"/>
<rect x="467.55" y="273.7" width="3.3" height="4.5" fill="#ffffff" stroke="#141414" stroke-width="0.9"/>
<rect x="472.55" y="251.2" width="3.3" height="27" fill="#141414" stroke="#141414" stroke-width="0.9"/>
<rect x="477.55" y="214" width="3.7" height="64.2" fill="#a0a0a0" stroke="#141414" stroke-width="0.9"/>
<rect x="486.45" y="274.6" width="3.3" height="3.6" fill="#ffffff" stroke="#141414" stroke-width="0.9"/>
<rect x="491.85" y="274.6" width="3.3" height="3.6" fill="#141414" stroke="#141414" stroke-width="0.9"/>
<rect x="496.25" y="275.2" width="3.7" height="3" fill="#a0a0a0" stroke="#141414" stroke-width="0.9"/>
<text font-size="10.8" font-weight="bold" text-anchor="middle" fill="#141414" textLength="75" lengthAdjust="spacingAndGlyphs" transform="translate(404.9 239) rotate(-90)">IFN-&#945; (ng mL<tspan dy="-3" font-size="7">-1</tspan><tspan dy="3">)</tspan></text>
<text font-size="10.8" font-weight="bold" text-anchor="end" fill="#141414" transform="translate(438.5 286) rotate(-41)">medium</text>
<text font-size="10.8" font-weight="bold" text-anchor="end" fill="#141414" transform="translate(457 286.5) rotate(-41)">CpG</text>
<text font-size="10.8" font-weight="bold" text-anchor="end" fill="#141414" transform="translate(476.5 286) rotate(-41)">virus</text>
<text font-size="10.8" font-weight="bold" text-anchor="end" fill="#141414" transform="translate(495 286.5) rotate(-41)">AL</text>
<text x="1" y="324.6" font-size="19.5" font-weight="bold" text-anchor="start" fill="#141414">C</text>
<text x="131.8" y="326.3" font-size="19.5" font-weight="bold" text-anchor="start" fill="#141414">D</text>
<text x="66.2" y="341.1" font-size="15" font-weight="bold" text-anchor="middle" fill="#141414" textLength="27.3" lengthAdjust="spacingAndGlyphs">B3Z</text>
<text x="203" y="341.5" font-size="14.8" font-weight="bold" text-anchor="middle" fill="#141414" textLength="56.2" lengthAdjust="spacingAndGlyphs">Medium</text>
<text x="334.5" y="341.2" font-size="14.6" font-weight="bold" text-anchor="middle" fill="#141414" textLength="32" lengthAdjust="spacingAndGlyphs">CpG</text>
<text x="466.2" y="341.8" font-size="14.6" font-weight="bold" text-anchor="middle" fill="#141414" textLength="39.2" lengthAdjust="spacingAndGlyphs">Virus</text>
<path d="M33.1,352.7 V425.4 M30.5,352.7 H33.1 M30.5,377.1 H33.1 M30.5,401.3 H33.1 M30.5,425.4 H33.1 M41.9,433.6 H112.4 M41.9,433.6 V436.2 M65.3,433.6 V436.2 M88.7,433.6 V436.2 M112.4,433.6 V436.2" stroke="#141414" stroke-width="1.2" fill="none"/>
<text x="29.4" y="358.8" font-size="13" font-weight="bold" text-anchor="end" fill="#141414">60</text>
<text x="29.4" y="383.2" font-size="13" font-weight="bold" text-anchor="end" fill="#141414">40</text>
<text x="29.4" y="407.4" font-size="13" font-weight="bold" text-anchor="end" fill="#141414">20</text>
<text x="29.4" y="431.5" font-size="13" font-weight="bold" text-anchor="end" fill="#141414">0</text>
<text x="41.5" y="445.9" font-size="11.3" font-weight="bold" text-anchor="middle" fill="#141414">0.05</text>
<text x="65.4" y="445.9" font-size="11.3" font-weight="bold" text-anchor="middle" fill="#141414">0.5</text>
<text x="88.5" y="445.9" font-size="11.3" font-weight="bold" text-anchor="middle" fill="#141414">5</text>
<text x="111.3" y="445.9" font-size="11.3" font-weight="bold" text-anchor="middle" fill="#141414">40</text>
<text font-size="9.8" font-weight="bold" fill="#141414" text-anchor="middle" textLength="59.5" lengthAdjust="spacingAndGlyphs" transform="translate(9.5 389.6) rotate(-90)">cpm (x10 <tspan dy="-2" font-size="8">-3</tspan><tspan dy="2">)</tspan></text>
<path d="M46.2,425 L104.6,425" fill="none" stroke="#141414" stroke-width="1.1"/>
<path d="M69.6,425 L80.9,423 L93,416.8 L104.6,390.9" fill="none" stroke="#141414" stroke-width="1.3"/>
<path d="M80.9,425 L93,421 L104.6,414.7" fill="none" stroke="#141414" stroke-width="1.3"/>
<path d="M41.9,424.6 L53.7,421.7 L65.3,417.3 L76.5,403.5 L87.8,382.7 L99.4,356.8 L111.5,355.7" fill="none" stroke="#141414" stroke-width="1.3"/>
<path d="M76.5,400 V408.7 M74.3,400 H78.7 M74.3,408.7 H78.7" stroke="#141414" stroke-width="1" fill="none"/>
<path d="M111.5,353.7 V362.3 M109.3,353.7 H113.7 M109.3,362.3 H113.7" stroke="#141414" stroke-width="1" fill="none"/>
<path d="M104.6,377 V404.7 M102.4,377 H106.8 M102.4,404.7 H106.8" stroke="#141414" stroke-width="1" fill="none"/>
<rect x="39.4" y="422.1" width="5" height="5" fill="#141414" stroke="#141414" stroke-width="1.1"/>
<rect x="51.2" y="419.2" width="5" height="5" fill="#141414" stroke="#141414" stroke-width="1.1"/>
<rect x="62.8" y="414.8" width="5" height="5" fill="#141414" stroke="#141414" stroke-width="1.1"/>
<rect x="74" y="401" width="5" height="5" fill="#141414" stroke="#141414" stroke-width="1.1"/>
<rect x="85.3" y="380.2" width="5" height="5" fill="#141414" stroke="#141414" stroke-width="1.1"/>
<rect x="96.9" y="354.3" width="5" height="5" fill="#141414" stroke="#141414" stroke-width="1.1"/>
<rect x="109" y="353.2" width="5" height="5" fill="#141414" stroke="#141414" stroke-width="1.1"/>
<circle cx="80.9" cy="423" r="2.4" fill="#141414" stroke="#141414" stroke-width="1"/>
<circle cx="93" cy="416.8" r="2.4" fill="#141414" stroke="#141414" stroke-width="1"/>
<circle cx="104.6" cy="390.9" r="2.7" fill="#141414" stroke="#141414" stroke-width="1"/>
<path d="M101.7,417.1 L107.5,417.1 L104.6,411.3 Z" fill="#141414"/>
<rect x="43.7" y="422.5" width="5" height="5" fill="#fff" stroke="#141414" stroke-width="1.1"/>
<rect x="55" y="422.5" width="5" height="5" fill="#fff" stroke="#141414" stroke-width="1.1"/>
<rect x="67.1" y="422.5" width="5" height="5" fill="#fff" stroke="#141414" stroke-width="1.1"/>
<rect x="78.4" y="422.5" width="5" height="5" fill="#fff" stroke="#141414" stroke-width="1.1"/>
<rect x="90.5" y="422.5" width="5" height="5" fill="#fff" stroke="#141414" stroke-width="1.1"/>
<rect x="102.1" y="422.5" width="5" height="5" fill="#fff" stroke="#141414" stroke-width="1.1"/>
<path d="M164.4,353.1 V425.4 M161.8,353.1 H164.4 M161.8,377.3 H164.4 M161.8,401.3 H164.4 M161.8,425.4 H164.4 M174,433.5 H243.3 M174,433.5 V436.1 M197.1,433.5 V436.1 M220.2,433.5 V436.1 M243.3,433.5 V436.1" stroke="#141414" stroke-width="1.2" fill="none"/>
<text x="161.5" y="359.2" font-size="13" font-weight="bold" text-anchor="end" fill="#141414">30</text>
<text x="161.5" y="383.4" font-size="13" font-weight="bold" text-anchor="end" fill="#141414">20</text>
<text x="161.5" y="407.4" font-size="13" font-weight="bold" text-anchor="end" fill="#141414">10</text>
<text x="161.5" y="431.5" font-size="13" font-weight="bold" text-anchor="end" fill="#141414">0</text>
<text x="171.2" y="445.9" font-size="11.3" font-weight="bold" text-anchor="middle" fill="#141414">0.08</text>
<text x="193.75" y="445.9" font-size="11.3" font-weight="bold" text-anchor="middle" fill="#141414">0.3</text>
<text x="219.25" y="445.9" font-size="11.3" font-weight="bold" text-anchor="middle" fill="#141414">1.25</text>
<text x="242.3" y="445.9" font-size="11.3" font-weight="bold" text-anchor="middle" fill="#141414">5</text>
<text font-size="9.8" font-weight="bold" fill="#141414" text-anchor="middle" textLength="59.5" lengthAdjust="spacingAndGlyphs" transform="translate(141.9 388.6) rotate(-90)">cpm (x10 <tspan dy="-2" font-size="8">-3</tspan><tspan dy="2">)</tspan></text>
<path d="M174,425.4 L243.3,423.8" fill="none" stroke="#141414" stroke-width="1.3"/>
<path d="M174,425.4 L197.1,412.3 L220.2,400.4 L243.3,373.8" fill="none" stroke="#141414" stroke-width="1.3"/>
<path d="M197.1,406.9 V417.1 M194.9,406.9 H199.3 M194.9,417.1 H199.3" stroke="#141414" stroke-width="1" fill="none"/>
<path d="M243.3,363.7 V384.4 M241.1,363.7 H245.5 M241.1,384.4 H245.5" stroke="#141414" stroke-width="1" fill="none"/>
<rect x="171.5" y="422.9" width="5" height="5" fill="#141414" stroke="#141414" stroke-width="1.1"/>
<rect x="194.6" y="409.8" width="5" height="5" fill="#141414" stroke="#141414" stroke-width="1.1"/>
<rect x="217.7" y="397.9" width="5" height="5" fill="#141414" stroke="#141414" stroke-width="1.1"/>
<rect x="240.8" y="371.3" width="5" height="5" fill="#141414" stroke="#141414" stroke-width="1.1"/>
<rect x="194.6" y="421.9" width="5" height="5" fill="#141414" stroke="#141414" stroke-width="1.1"/>
<rect x="217.7" y="421.6" width="5" height="5" fill="#141414" stroke="#141414" stroke-width="1.1"/>
<rect x="240.8" y="421.3" width="5" height="5" fill="#141414" stroke="#141414" stroke-width="1.1"/>
<circle cx="207.7" cy="424.2" r="2.4" fill="#fff" stroke="#141414" stroke-width="1"/>
<circle cx="231.7" cy="424" r="2.4" fill="#fff" stroke="#141414" stroke-width="1"/>
<path d="M297.5,353.1 V425.3 M294.9,353.1 H297.5 M294.9,377.1 H297.5 M294.9,401.5 H297.5 M294.9,425.3 H297.5 M306.3,433.1 H374.9 M306.3,433.1 V435.7 M329.3,433.1 V435.7 M352.1,433.1 V435.7 M374.9,433.1 V435.7" stroke="#141414" stroke-width="1.2" fill="none"/>
<text x="294.5" y="359.2" font-size="13" font-weight="bold" text-anchor="end" fill="#141414">30</text>
<text x="294.5" y="383.2" font-size="13" font-weight="bold" text-anchor="end" fill="#141414">20</text>
<text x="294.5" y="407.6" font-size="13" font-weight="bold" text-anchor="end" fill="#141414">10</text>
<text x="294.5" y="431.4" font-size="13" font-weight="bold" text-anchor="end" fill="#141414">0</text>
<text x="302.75" y="445.9" font-size="11.3" font-weight="bold" text-anchor="middle" fill="#141414">0.08</text>
<text x="325.5" y="445.9" font-size="11.3" font-weight="bold" text-anchor="middle" fill="#141414">0.3</text>
<text x="350.95" y="445.9" font-size="11.3" font-weight="bold" text-anchor="middle" fill="#141414">1.25</text>
<text x="374.25" y="445.9" font-size="11.3" font-weight="bold" text-anchor="middle" fill="#141414">5</text>
<text font-size="9.8" font-weight="bold" fill="#141414" text-anchor="middle" textLength="59.5" lengthAdjust="spacingAndGlyphs" transform="translate(273.5 388.4) rotate(-90)">cpm (x10 <tspan dy="-2" font-size="8">-3</tspan><tspan dy="2">)</tspan></text>
<path d="M306.3,425.3 L374.9,425" fill="none" stroke="#141414" stroke-width="1.1"/>
<path d="M340.4,424 L363.4,423 L374.9,421" fill="none" stroke="#141414" stroke-width="1"/>
<path d="M306.3,425.3 L329.3,425.3 L352.1,412.6 L374.9,394.1" fill="none" stroke="#141414" stroke-width="1.3"/>
<path d="M306.3,421.8 L329.3,403.8 L352.1,386.9 L374.9,369.1" fill="none" stroke="#141414" stroke-width="1.3"/>
<path d="M374.9,365.2 V372.6 M372.7,365.2 H377.1 M372.7,372.6 H377.1" stroke="#141414" stroke-width="1" fill="none"/>
<path d="M374.9,389.2 V399.9 M372.7,389.2 H377.1 M372.7,399.9 H377.1" stroke="#141414" stroke-width="1" fill="none"/>
<rect x="303.8" y="419.3" width="5" height="5" fill="#141414" stroke="#141414" stroke-width="1.1"/>
<rect x="326.8" y="401.3" width="5" height="5" fill="#141414" stroke="#141414" stroke-width="1.1"/>
<rect x="349.6" y="384.4" width="5" height="5" fill="#141414" stroke="#141414" stroke-width="1.1"/>
<rect x="372.4" y="366.6" width="5" height="5" fill="#141414" stroke="#141414" stroke-width="1.1"/>
<rect x="326.8" y="422.8" width="5" height="5" fill="#141414" stroke="#141414" stroke-width="1.1"/>
<rect x="349.6" y="410.1" width="5" height="5" fill="#141414" stroke="#141414" stroke-width="1.1"/>
<circle cx="306.3" cy="425" r="2.6" fill="#141414" stroke="#141414" stroke-width="1"/>
<circle cx="374.9" cy="394.1" r="2.6" fill="#141414" stroke="#141414" stroke-width="1"/>
<circle cx="340.4" cy="424.2" r="2.4" fill="#fff" stroke="#141414" stroke-width="1"/>
<circle cx="363.4" cy="423.2" r="2.4" fill="#fff" stroke="#141414" stroke-width="1"/>
<circle cx="374.9" cy="421" r="2.4" fill="#fff" stroke="#141414" stroke-width="1"/>
<rect x="338.4" y="423.6" width="4" height="4" fill="#fff" stroke="#141414" stroke-width="1.1"/>
<rect x="361.4" y="423.6" width="4" height="4" fill="#fff" stroke="#141414" stroke-width="1.1"/>
<rect x="372.9" y="423.6" width="4" height="4" fill="#fff" stroke="#141414" stroke-width="1.1"/>
<path d="M429.8,353.2 V425.1 M427.2,353.2 H429.8 M427.2,377.1 H429.8 M427.2,401.4 H429.8 M427.2,425.1 H429.8 M438.4,433.2 H508 M438.4,433.2 V435.8 M461.7,433.2 V435.8 M484.8,433.2 V435.8 M508,433.2 V435.8" stroke="#141414" stroke-width="1.2" fill="none"/>
<text x="425.8" y="359.3" font-size="13" font-weight="bold" text-anchor="end" fill="#141414">30</text>
<text x="425.8" y="383.2" font-size="13" font-weight="bold" text-anchor="end" fill="#141414">20</text>
<text x="425.8" y="407.5" font-size="13" font-weight="bold" text-anchor="end" fill="#141414">10</text>
<text x="425.8" y="431.2" font-size="13" font-weight="bold" text-anchor="end" fill="#141414">0</text>
<text x="434.8" y="445.9" font-size="11.3" font-weight="bold" text-anchor="middle" fill="#141414">0.08</text>
<text x="458.65" y="445.9" font-size="11.3" font-weight="bold" text-anchor="middle" fill="#141414">0.3</text>
<text x="485.4" y="445.9" font-size="11.3" font-weight="bold" text-anchor="middle" fill="#141414">1.25</text>
<text x="507.4" y="445.9" font-size="11.3" font-weight="bold" text-anchor="middle" fill="#141414">5</text>
<text font-size="9.8" font-weight="bold" fill="#141414" text-anchor="middle" textLength="59.5" lengthAdjust="spacingAndGlyphs" transform="translate(405 389.2) rotate(-90)">cpm (x10 <tspan dy="-2" font-size="8">-3</tspan><tspan dy="2">)</tspan></text>
<path d="M438.4,424.5 L461.7,412 L484.8,397.8 L508,388.1" fill="none" stroke="#777777" stroke-width="0.9"/>
<path d="M484.8,394 V402.5 M482.6,394 H487 M482.6,402.5 H487" stroke="#777777" stroke-width="1" fill="none"/>
<path d="M508,385 V391 M505.8,385 H510.2 M505.8,391 H510.2" stroke="#777777" stroke-width="1" fill="none"/>
<path d="M461.7,419 V429 M459.5,419 H463.9 M459.5,429 H463.9" stroke="#777777" stroke-width="1" fill="none"/>
<path d="M438.4,425 L508,425" fill="none" stroke="#777777" stroke-width="0.9"/>
<path d="M438.4,424 L461.7,416.9 L484.8,424.3 L508,423.7" fill="none" stroke="#141414" stroke-width="1.3"/>
<path d="M438.4,423.7 L461.7,408.9 L484.8,382.4 L508,379.9" fill="none" stroke="#141414" stroke-width="1.5"/>
<path d="M484.8,376.7 V388.1 M482.6,376.7 H487 M482.6,388.1 H487" stroke="#141414" stroke-width="1" fill="none"/>
<path d="M508,375.4 V384.5 M505.8,375.4 H510.2 M505.8,384.5 H510.2" stroke="#141414" stroke-width="1" fill="none"/>
<path d="M508,419.5 V427.5 M505.8,419.5 H510.2 M505.8,427.5 H510.2" stroke="#141414" stroke-width="1" fill="none"/>
<rect x="459.2" y="409.5" width="5" height="5" fill="#777777" stroke="#777777" stroke-width="1.1"/>
<rect x="482.3" y="395.3" width="5" height="5" fill="#777777" stroke="#777777" stroke-width="1.1"/>
<rect x="505.5" y="385.6" width="5" height="5" fill="#777777" stroke="#777777" stroke-width="1.1"/>
<rect x="435.9" y="421.2" width="5" height="5" fill="#141414" stroke="#141414" stroke-width="1.1"/>
<rect x="459.2" y="406.4" width="5" height="5" fill="#141414" stroke="#141414" stroke-width="1.1"/>
<rect x="482.3" y="379.9" width="5" height="5" fill="#141414" stroke="#141414" stroke-width="1.1"/>
<rect x="505.5" y="377.4" width="5" height="5" fill="#141414" stroke="#141414" stroke-width="1.1"/>
<circle cx="438.4" cy="424" r="2.6" fill="#141414" stroke="#141414" stroke-width="1"/>
<circle cx="461.7" cy="416.9" r="2.6" fill="#141414" stroke="#141414" stroke-width="1"/>
<circle cx="484.8" cy="424.3" r="2.6" fill="#141414" stroke="#141414" stroke-width="1"/>
<circle cx="508" cy="423.7" r="2.6" fill="#141414" stroke="#141414" stroke-width="1"/>
<circle cx="472.2" cy="425" r="2.4" fill="#fff" stroke="#777777" stroke-width="1"/>
<circle cx="496.2" cy="425" r="2.4" fill="#fff" stroke="#777777" stroke-width="1"/>
<path d="M2.5,458.1 H509" stroke="#141414" stroke-width="1.3"/>
<path d="M508.5,453.8 L518.6,458.2 L508.5,462.8 Z" fill="#141414"/>
<text x="140.4" y="478.8" font-size="14.2" font-weight="bold" text-anchor="start" fill="#141414" textLength="201.8" lengthAdjust="spacingAndGlyphs">Number of DCs / well (x 10<tspan dy="-4.5" font-size="9.5">-3</tspan><tspan dy="4.5">)</tspan></text>
<text x="32.4" y="519.3" font-size="19.6" font-weight="bold" text-anchor="start" fill="#141414" textLength="177.4" lengthAdjust="spacingAndGlyphs">In vivo stimulation</text>
<text x="2.9" y="544.7" font-size="19.2" font-weight="bold" text-anchor="start" fill="#141414">E</text>
<text x="373.6" y="544.3" font-size="19.2" font-weight="bold" text-anchor="start" fill="#141414">F</text>
<rect x="30.9" y="560.5" width="76.7" height="77" fill="none" stroke="#141414" stroke-width="1.3"/>
<path d="M27.9,637.5 H30.9 M27.9,634.29 H30.9 M27.9,631.08 H30.9 M27.9,627.88 H30.9 M27.9,624.67 H30.9 M27.9,621.46 H30.9 M27.9,618.25 H30.9 M27.9,615.04 H30.9 M27.9,611.83 H30.9 M27.9,608.62 H30.9 M27.9,605.42 H30.9 M27.9,602.21 H30.9 M27.9,599 H30.9 M27.9,595.79 H30.9 M27.9,592.58 H30.9 M27.9,589.38 H30.9 M27.9,586.17 H30.9 M27.9,582.96 H30.9 M27.9,579.75 H30.9 M27.9,576.54 H30.9 M27.9,573.33 H30.9 M27.9,570.12 H30.9 M27.9,566.92 H30.9 M27.9,563.71 H30.9 M27.9,560.5 H30.9 M26.7,637.5 H30.9 M26.7,622.94 H30.9 M26.7,608.39 H30.9 M26.7,593.83 H30.9 M26.7,579.28 H30.9 M26.7,564.72 H30.9" stroke="#141414" stroke-width="1" fill="none"/>
<path d="M30.9,637.5 V641.1 M36.67,637.5 V639.5 M40.05,637.5 V639.5 M42.44,637.5 V639.5 M44.3,637.5 V640.1 M45.82,637.5 V639.5 M47.1,637.5 V639.5 M48.22,637.5 V639.5 M49.2,637.5 V639.5 M50.07,637.5 V641.1 M55.85,637.5 V639.5 M59.22,637.5 V639.5 M61.62,637.5 V639.5 M63.48,637.5 V640.1 M65,637.5 V639.5 M66.28,637.5 V639.5 M67.39,637.5 V639.5 M68.37,637.5 V639.5 M69.25,637.5 V641.1 M75.02,637.5 V639.5 M78.4,637.5 V639.5 M80.79,637.5 V639.5 M82.65,637.5 V640.1 M84.17,637.5 V639.5 M85.45,637.5 V639.5 M86.57,637.5 V639.5 M87.55,637.5 V639.5 M88.42,637.5 V641.1 M94.2,637.5 V639.5 M97.57,637.5 V639.5 M99.97,637.5 V639.5 M101.83,637.5 V640.1 M103.35,637.5 V639.5 M104.63,637.5 V639.5 M105.74,637.5 V639.5 M106.72,637.5 V639.5 M107.6,637.5 V641.1" stroke="#141414" stroke-width="1" fill="none"/>
<text font-size="9.6" font-weight="bold" text-anchor="middle" fill="#141414" textLength="4.75" lengthAdjust="spacingAndGlyphs" transform="translate(21.6 637.5) rotate(-90)">0</text>
<text font-size="9.6" font-weight="bold" text-anchor="middle" fill="#141414" textLength="9.5" lengthAdjust="spacingAndGlyphs" transform="translate(21.6 622.94) rotate(-90)">10</text>
<text font-size="9.6" font-weight="bold" text-anchor="middle" fill="#141414" textLength="9.5" lengthAdjust="spacingAndGlyphs" transform="translate(21.6 608.39) rotate(-90)">20</text>
<text font-size="9.6" font-weight="bold" text-anchor="middle" fill="#141414" textLength="9.5" lengthAdjust="spacingAndGlyphs" transform="translate(21.6 593.83) rotate(-90)">30</text>
<text font-size="9.6" font-weight="bold" text-anchor="middle" fill="#141414" textLength="9.5" lengthAdjust="spacingAndGlyphs" transform="translate(21.6 579.28) rotate(-90)">40</text>
<text font-size="9.6" font-weight="bold" text-anchor="middle" fill="#141414" textLength="9.5" lengthAdjust="spacingAndGlyphs" transform="translate(21.6 564.72) rotate(-90)">50</text>
<text font-size="10" font-weight="bold" text-anchor="middle" fill="#141414" textLength="31.5" lengthAdjust="spacingAndGlyphs" transform="translate(11.5 600.2) rotate(-90)">Counts</text>
<text x="23.9" y="654" font-size="10.5" font-weight="normal" fill="#141414" font-family='"Liberation Serif", serif' textLength="9.8" lengthAdjust="spacingAndGlyphs">10</text>
<text x="34" y="648.6" font-size="8.6" font-weight="normal" fill="#141414" font-family='"Liberation Serif", serif'>0</text>
<text x="98.7" y="654" font-size="10.5" font-weight="normal" fill="#141414" font-family='"Liberation Serif", serif' textLength="9.8" lengthAdjust="spacingAndGlyphs">10</text>
<text x="108.8" y="648.6" font-size="8.6" font-weight="normal" fill="#141414" font-family='"Liberation Serif", serif'>4</text>
<text x="67.1" y="662.7" font-size="14.7" font-weight="bold" text-anchor="middle" fill="#141414" font-family='"Liberation Serif", serif' textLength="37.6" lengthAdjust="spacingAndGlyphs">CD40</text>
<rect x="148.9" y="560.2" width="77.5" height="76.8" fill="none" stroke="#141414" stroke-width="1.3"/>
<path d="M145.9,637 H148.9 M145.9,633.8 H148.9 M145.9,630.6 H148.9 M145.9,627.4 H148.9 M145.9,624.2 H148.9 M145.9,621 H148.9 M145.9,617.8 H148.9 M145.9,614.6 H148.9 M145.9,611.4 H148.9 M145.9,608.2 H148.9 M145.9,605 H148.9 M145.9,601.8 H148.9 M145.9,598.6 H148.9 M145.9,595.4 H148.9 M145.9,592.2 H148.9 M145.9,589 H148.9 M145.9,585.8 H148.9 M145.9,582.6 H148.9 M145.9,579.4 H148.9 M145.9,576.2 H148.9 M145.9,573 H148.9 M145.9,569.8 H148.9 M145.9,566.6 H148.9 M145.9,563.4 H148.9 M145.9,560.2 H148.9 M144.7,637 H148.9 M144.7,565.81 H148.9" stroke="#141414" stroke-width="1" fill="none"/>
<path d="M148.9,637 V640.6 M154.73,637 V639 M158.14,637 V639 M160.56,637 V639 M162.44,637 V639.6 M163.98,637 V639 M165.27,637 V639 M166.4,637 V639 M167.39,637 V639 M168.28,637 V640.6 M174.11,637 V639 M177.52,637 V639 M179.94,637 V639 M181.82,637 V639.6 M183.35,637 V639 M184.65,637 V639 M185.77,637 V639 M186.76,637 V639 M187.65,637 V640.6 M193.48,637 V639 M196.89,637 V639 M199.31,637 V639 M201.19,637 V639.6 M202.73,637 V639 M204.02,637 V639 M205.15,637 V639 M206.14,637 V639 M207.03,637 V640.6 M212.86,637 V639 M216.27,637 V639 M218.69,637 V639 M220.57,637 V639.6 M222.1,637 V639 M223.4,637 V639 M224.52,637 V639 M225.51,637 V639 M226.4,637 V640.6" stroke="#141414" stroke-width="1" fill="none"/>
<text font-size="9.6" font-weight="bold" text-anchor="middle" fill="#141414" textLength="4.75" lengthAdjust="spacingAndGlyphs" transform="translate(140.2 637) rotate(-90)">0</text>
<text font-size="9.6" font-weight="bold" text-anchor="middle" fill="#141414" textLength="9.5" lengthAdjust="spacingAndGlyphs" transform="translate(140.2 565.81) rotate(-90)">80</text>
<text font-size="10" font-weight="bold" text-anchor="middle" fill="#141414" textLength="31.5" lengthAdjust="spacingAndGlyphs" transform="translate(130.8 599.8) rotate(-90)">Counts</text>
<text x="141.9" y="653.5" font-size="10.5" font-weight="normal" fill="#141414" font-family='"Liberation Serif", serif' textLength="9.8" lengthAdjust="spacingAndGlyphs">10</text>
<text x="152" y="648.1" font-size="8.6" font-weight="normal" fill="#141414" font-family='"Liberation Serif", serif'>0</text>
<text x="217.5" y="653.5" font-size="10.5" font-weight="normal" fill="#141414" font-family='"Liberation Serif", serif' textLength="9.8" lengthAdjust="spacingAndGlyphs">10</text>
<text x="227.6" y="648.1" font-size="8.6" font-weight="normal" fill="#141414" font-family='"Liberation Serif", serif'>4</text>
<text x="185.95" y="662.1" font-size="14.7" font-weight="bold" text-anchor="middle" fill="#141414" font-family='"Liberation Serif", serif' textLength="37" lengthAdjust="spacingAndGlyphs">CD86</text>
<rect x="268.4" y="561.1" width="77.6" height="76.5" fill="none" stroke="#141414" stroke-width="1.3"/>
<path d="M265.4,637.6 H268.4 M265.4,634.41 H268.4 M265.4,631.23 H268.4 M265.4,628.04 H268.4 M265.4,624.85 H268.4 M265.4,621.66 H268.4 M265.4,618.48 H268.4 M265.4,615.29 H268.4 M265.4,612.1 H268.4 M265.4,608.91 H268.4 M265.4,605.73 H268.4 M265.4,602.54 H268.4 M265.4,599.35 H268.4 M265.4,596.16 H268.4 M265.4,592.98 H268.4 M265.4,589.79 H268.4 M265.4,586.6 H268.4 M265.4,583.41 H268.4 M265.4,580.23 H268.4 M265.4,577.04 H268.4 M265.4,573.85 H268.4 M265.4,570.66 H268.4 M265.4,567.48 H268.4 M265.4,564.29 H268.4 M265.4,561.1 H268.4 M264.2,637.6 H268.4 M264.2,566.44 H268.4" stroke="#141414" stroke-width="1" fill="none"/>
<path d="M268.4,637.6 V641.2 M274.24,637.6 V639.6 M277.66,637.6 V639.6 M280.08,637.6 V639.6 M281.96,637.6 V640.2 M283.5,637.6 V639.6 M284.79,637.6 V639.6 M285.92,637.6 V639.6 M286.91,637.6 V639.6 M287.8,637.6 V641.2 M293.64,637.6 V639.6 M297.06,637.6 V639.6 M299.48,637.6 V639.6 M301.36,637.6 V640.2 M302.9,637.6 V639.6 M304.19,637.6 V639.6 M305.32,637.6 V639.6 M306.31,637.6 V639.6 M307.2,637.6 V641.2 M313.04,637.6 V639.6 M316.46,637.6 V639.6 M318.88,637.6 V639.6 M320.76,637.6 V640.2 M322.3,637.6 V639.6 M323.59,637.6 V639.6 M324.72,637.6 V639.6 M325.71,637.6 V639.6 M326.6,637.6 V641.2 M332.44,637.6 V639.6 M335.86,637.6 V639.6 M338.28,637.6 V639.6 M340.16,637.6 V640.2 M341.7,637.6 V639.6 M342.99,637.6 V639.6 M344.12,637.6 V639.6 M345.11,637.6 V639.6 M346,637.6 V641.2" stroke="#141414" stroke-width="1" fill="none"/>
<text font-size="9.6" font-weight="bold" text-anchor="middle" fill="#141414" textLength="4.75" lengthAdjust="spacingAndGlyphs" transform="translate(260 637.6) rotate(-90)">0</text>
<text font-size="9.6" font-weight="bold" text-anchor="middle" fill="#141414" textLength="9.5" lengthAdjust="spacingAndGlyphs" transform="translate(260 566.44) rotate(-90)">60</text>
<text font-size="10" font-weight="bold" text-anchor="middle" fill="#141414" textLength="31.5" lengthAdjust="spacingAndGlyphs" transform="translate(248.5 600.55) rotate(-90)">Counts</text>
<text x="261.4" y="654.1" font-size="10.5" font-weight="normal" fill="#141414" font-family='"Liberation Serif", serif' textLength="9.8" lengthAdjust="spacingAndGlyphs">10</text>
<text x="271.5" y="648.7" font-size="8.6" font-weight="normal" fill="#141414" font-family='"Liberation Serif", serif'>0</text>
<text x="337.1" y="654.1" font-size="10.5" font-weight="normal" fill="#141414" font-family='"Liberation Serif", serif' textLength="9.8" lengthAdjust="spacingAndGlyphs">10</text>
<text x="347.2" y="648.7" font-size="8.6" font-weight="normal" fill="#141414" font-family='"Liberation Serif", serif'>4</text>
<text x="299.2" y="662.6" font-size="14.7" font-weight="bold" text-anchor="start" fill="#141414" font-family='"Liberation Serif", serif'>K</text>
<text x="311" y="658" font-size="9" font-weight="bold" text-anchor="start" fill="#141414" font-family='"Liberation Serif", serif'>b</text>
<path d="M32.73,637.11 L34.31,632.7 L35.89,632.32 L37.46,631.12 L39.04,628.37 L40.62,626.39 L42.98,620.08 L44.56,612.2 L46.14,601.16 L47.71,588.54 L48.82,575.92 L49.76,566.46 L50.39,560.63 L51.81,561.49 L53.23,560.63 L54.02,566.46 L54.81,580.66 L55.6,596.43 L56.39,609.04 L57.18,616.93 L58.28,624.81 L59.54,631.12 L61.12,634.27 L63.48,637.11 Z" fill="#cdcdcd" stroke="#3a3a3a" stroke-width="0.9"/>
<path d="M31.15,635.85 L32.73,632.8 L34.31,631.12 L35.89,629.79 L37.46,628.76 L39.04,627.25 L40.62,624.81 L42.98,618.5 L44.56,609.04 L46.14,598 L47.24,585.39 L48.19,574.35 L48.97,564.89 L49.61,560.63" fill="none" stroke="#333" stroke-width="0.9"/>
<path d="M37.46,635.85 L39.04,634.44 L40.62,634.27 L42.19,632.68 L43.77,631.12 L46.14,626.39 L47.71,620.08 L49.29,610.62 L50.55,599.58 L51.66,588.54 L52.44,575.92 L53.23,566.46 L54.02,563.31 L55.13,564.1 L56.39,566.46 L57.33,575.92 L57.96,585.39 L58.75,594.85 L59.54,604.31 L60.33,613.77 L61.43,621.66 L62.69,626.39 L64.59,628.76 L66.64,629.54 L69,630.33 L71.37,631.12 L73.73,632.7 L76.1,634.27 L78.47,635.85 L80.04,635.42 L81.62,636.64" fill="none" stroke="#141414" stroke-width="1.25" stroke-dasharray="1.8 1.4"/>
<path d="M56.39,609.04 L57.18,588.54 L58.28,572.77 L59.54,566.46 L61.12,564.89 L62.38,563.31 L63.48,560.63 L64.27,566.46 L65.22,575.92 L66.16,588.54 L67.11,598 L68.21,609.04 L69.32,616.93 L70.58,623.24 L72.16,626.39 L74.52,626.39 L76.89,627.97 L78.47,629.54 L80.04,631.12 L82.41,631.12 L83.98,632.7 L86.35,634.27 L87.93,634.97 L89.5,635.06 L91.08,635.8 L92.66,635.72 L94.24,635.85 L95.81,636.79 L97.39,636.04 L98.97,636.64 L100.54,637.15 L102.12,637.13 L103.7,637.11" fill="none" stroke="#141414" stroke-width="1.2" stroke-linejoin="miter"/>
<path d="M153.31,636.64 L154.89,635.6 L156.46,634.27 L158.04,632.62 L159.62,631.12 L161.19,629.37 L162.77,626.39 L164.35,620.08 L165.61,609.04 L166.71,596.43 L167.82,588.54 L168.76,582.23 L169.55,579.08 L170.34,582.23 L171.44,593.27 L172.55,604.31 L173.81,613.77 L175.07,623.24 L176.18,629.54 L177.75,632.7 L180.12,635.06 L181.69,636.65 L183.27,636.64 Z" fill="#cdcdcd" stroke="#3a3a3a" stroke-width="0.9"/>
<path d="M150.15,624.81 L151.73,629.54 L154.1,627.97 L156.46,624.81 L158.83,620.08 L161.19,610.62 L162.77,599.58 L164.35,588.54 L165.61,575.92 L166.71,566.46 L167.5,561.73 L168.76,563.31 L169.87,569.62 L170.66,585.39 L171.44,601.16 L172.23,610.62 L173.49,620.08 L175.07,626.39 L176.96,631.12 L179.33,633.49 L181.69,634.27 L183.27,634.62 L184.85,635.06 L186.43,634.96 L188,634.27 L189.58,634.27 L191.16,635.85 L192.73,636.61 L194.31,636.64" fill="none" stroke="#333" stroke-width="0.9"/>
<path d="M162.77,609.04 L164.35,596.43 L165.61,580.66 L166.56,569.62 L167.5,563.31 L168.45,561.73 L169.39,566.46 L170.02,575.92 L170.66,588.54 L171.29,601.16 L172.23,612.2 L173.49,621.66 L175.39,627.97 L177.75,631.91 L179.33,633.36 L180.91,634.27 L182.22,635.58 L183.53,635.7 L184.85,635.54 L186.43,635.31 L188,635.85" fill="none" stroke="#141414" stroke-width="1.25" stroke-dasharray="1.8 1.4"/>
<path d="M150.15,635.06 L151.73,634.46 L153.31,634.27 L154.89,633 L156.46,631.12 L158.04,627.9 L159.62,626.39 L161.98,620.08 L163.56,612.2 L165.14,601.16 L166.24,588.54 L167.19,575.92 L167.97,566.46 L168.76,561.73 L169.87,563.31 L170.97,561.73 L172.23,560.63 L173.18,566.46 L174.13,575.92 L175.07,585.39 L176.18,594.85 L177.28,604.31 L178.54,612.2 L180.12,620.08 L181.69,624.81 L184.06,627.97 L186.43,630.33 L188.79,631.91 L191.16,633.49 L193.52,634.27 L195.89,635.85 L197.47,636.18 L199.04,636.64" fill="none" stroke="#141414" stroke-width="1.2" stroke-linejoin="miter"/>
<path d="M270.73,636.64 L272.31,634.07 L273.89,632.7 L276.25,629.54 L278.62,626.39 L280.19,620.08 L281.77,609.04 L283.03,599.58 L284.14,588.54 L285.24,580.66 L286.5,572.77 L287.45,564.89 L288.39,561.42 L289.34,566.46 L290.44,575.92 L291.23,588.54 L292.34,599.58 L293.28,609.04 L294.39,616.93 L295.65,624.81 L297.07,629.54 L299.12,632.7 L301.48,635.06 L303.85,636.64 Z" fill="#cdcdcd" stroke="#3a3a3a" stroke-width="0.9"/>
<path d="M297.54,636.64 L299.91,632.7 L302.27,627.97 L304.64,623.24 L306.21,618.5 L307.79,615.35 L308.9,612.2 L310.16,604.31 L311.42,593.27 L312.52,580.66 L313.63,569.62 L314.57,563.31 L315.68,561.42 L316.47,566.46 L317.25,575.92 L318.04,588.54 L318.99,598 L319.93,605.89 L321.2,613.77 L322.46,620.08 L323.88,626.39 L325.61,631.12 L327.82,634.27 L329.24,634.37 L330.66,635.85 L332.24,635.45 L333.81,636.64" fill="none" stroke="#141414" stroke-width="1.25" stroke-dasharray="1.8 1.4"/>
<path d="M301.48,636.64 L303.85,635.06 L305.43,635.15 L307,634.27 L309.37,632.7 L310.95,629.54 L312.05,623.24 L313,613.77 L314.1,601.16 L315.2,588.54 L316.15,579.08 L317.1,571.19 L318.04,564.89 L318.99,561.42 L319.93,564.89 L320.88,572.77 L321.98,582.23 L323.09,593.27 L324.04,604.31 L325.14,613.77 L326.24,620.08 L327.5,624.81 L329.08,627.97 L331.45,631.12 L333.81,632.7 L336.18,634.27 L338.54,635.85 L340.12,635.58 L341.7,636.64" fill="none" stroke="#141414" stroke-width="1.2" stroke-linejoin="miter"/>
<rect x="412.8" y="563.1" width="75.4" height="75.4" fill="none" stroke="#141414" stroke-width="1"/>
<text x="410.4" y="643.5" font-size="11.3" font-weight="bold" text-anchor="end" fill="#141414">0</text>
<text x="410.4" y="624.65" font-size="11.3" font-weight="bold" text-anchor="end" fill="#141414">100</text>
<text x="410.4" y="605.8" font-size="11.3" font-weight="bold" text-anchor="end" fill="#141414">200</text>
<text x="410.4" y="586.95" font-size="11.3" font-weight="bold" text-anchor="end" fill="#141414">300</text>
<text x="410.4" y="568.1" font-size="11.3" font-weight="bold" text-anchor="end" fill="#141414">400</text>
<path d="M410.3,638.5 H412.8 M410.3,619.65 H412.8 M410.3,600.8 H412.8 M410.3,581.95 H412.8 M410.3,563.1 H412.8" stroke="#141414" stroke-width="1"/>
<rect x="419.2" y="630.02" width="9.2" height="8.48" fill="#ffffff" stroke="#141414" stroke-width="0.9"/>
<rect x="433.9" y="630.39" width="9.2" height="8.11" fill="#141414" stroke="#141414" stroke-width="0.9"/>
<rect x="457.6" y="630.02" width="9.2" height="8.48" fill="#ffffff" stroke="#141414" stroke-width="0.9"/>
<rect x="471.6" y="570.64" width="9.2" height="67.86" fill="#141414" stroke="#141414" stroke-width="0.9"/>
<text font-size="10.8" font-weight="bold" text-anchor="middle" fill="#141414" textLength="77" lengthAdjust="spacingAndGlyphs" transform="translate(381.5 601.8) rotate(-90)">IFN-&#945; (pg mL<tspan dy="-3" font-size="7">-1</tspan><tspan dy="3">)</tspan></text>
<text font-size="11" font-weight="bold" text-anchor="end" fill="#141414" transform="translate(430.5 646) rotate(-41)">AL</text>
<text font-size="11" font-weight="bold" text-anchor="end" fill="#141414" transform="translate(467 646) rotate(-41)">virus</text>
</svg>
</body></html>
